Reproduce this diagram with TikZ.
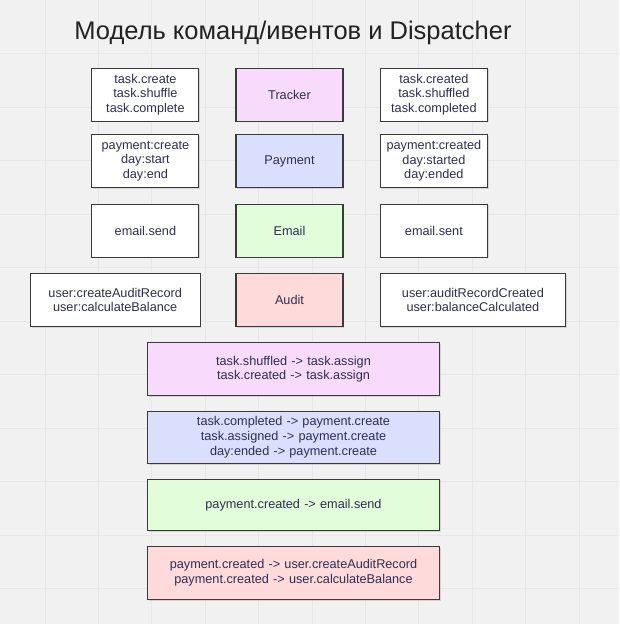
\documentclass[tikz,border=0pt]{standalone}
\usepackage{fontspec}
\setmainfont{Liberation Sans}
\usetikzlibrary{shadows}
\definecolor{bgcol}{HTML}{F1F1F1}
\definecolor{gridcol}{HTML}{E7E7E7}
\definecolor{txtcol}{HTML}{2E2E52}
\definecolor{titlecol}{HTML}{222222}
\definecolor{edgecol}{HTML}{3A3A3A}
\definecolor{pinkf}{HTML}{F8DAFC}
\definecolor{bluef}{HTML}{DADFFE}
\definecolor{greenf}{HTML}{E2FDDA}
\definecolor{redf}{HTML}{FFDADA}
\tikzset{
  box/.style={draw=edgecol, line width=1.1pt, fill=white, align=center, text=txtcol,
    inner sep=0pt, minimum height=53pt, text width=#1, minimum width=#1,
    font=\fontsize{12.7}{14.6}\selectfont,
    drop shadow={shadow xshift=1.2pt, shadow yshift=-1.2pt, opacity=0.25}},
  box/.default=107pt
}
\begin{document}
\begin{tikzpicture}[x=1pt,y=-1pt]
\fill[bgcol] (0,0) rectangle (619,624);
\useasboundingbox (0,0) rectangle (619,624);
\foreach \k in {0,...,10} {
  \draw[gridcol, line width=0.7pt] ({45+53.4*\k},0) -- ({45+53.4*\k},624);
}
\foreach \k in {1,...,11} {
  \draw[gridcol, line width=0.7pt] (0,{53.5*\k}) -- (619,{53.5*\k});
}
\node[text=titlecol, font=\fontsize{25.5}{30}\selectfont] (title) at (293,33) {Модель команд/ивентов и Dispatcher};

% row 1
\node[box] (c1) at (145.4,94.7) {task.create\\task.shuffle\\task.complete};
\node[box, fill=pinkf] (tracker) at (289.5,94.7) {Tracker};
\node[box] (e1) at (433.9,94.7) {task.created\\task.shuffled\\task.completed};
% row 2
\node[box] (c2) at (145.4,161) {payment:create\\day:start\\day:end};
\node[box, fill=bluef] (payment) at (289.5,161) {Payment};
\node[box] (e2) at (433.9,161) {payment:created\\day:started\\day:ended};
% row 3
\node[box] (c3) at (145.4,230.7) {email.send};
\node[box, fill=greenf] (email) at (289.5,230.7) {Email};
\node[box] (e3) at (433.9,230.7) {email.sent};
% row 4
\node[box=169.7pt] (c4) at (115.2,300) {user:createAuditRecord\\user:calculateBalance};
\node[box, fill=redf] (audit) at (289.5,300) {Audit};
\node[box=185.7pt] (e4) at (472.9,300) {user:auditRecordCreated\\user:balanceCalculated};

% dispatcher rules
\node[box=291.6pt, fill=pinkf] (r1) at (293.5,369.2) {task.shuffled -> task.assign\\task.created -> task.assign};
\node[box=291.6pt, fill=bluef, minimum height=52pt] (r2) at (293.5,437.3) {task.completed -> payment.create\\task.assigned -> payment.create\\day:ended -> payment.create};
\node[box=291.6pt, fill=greenf, minimum height=51.7pt] (r3) at (293.5,504.9) {payment.created -> email.send};
\node[box=291.6pt, fill=redf] (r4) at (293.5,572.8) {payment.created -> user.createAuditRecord\\payment.created -> user.calculateBalance};
\end{tikzpicture}
\end{document}
